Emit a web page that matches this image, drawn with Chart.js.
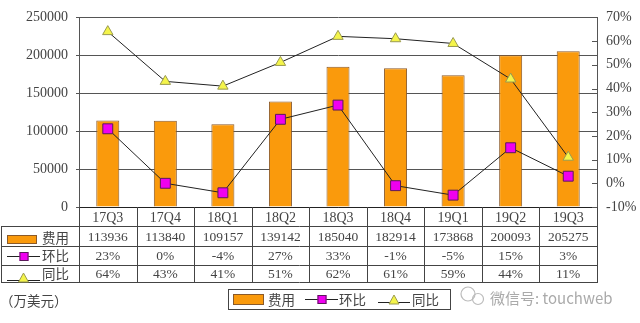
<!DOCTYPE html>
<html>
<head>
<meta charset="utf-8">
<script src="https://cdn.jsdelivr.net/npm/chart.js@4/dist/chart.umd.min.js"></script>
<style>
  html, body { margin: 0; padding: 0; background: #fff; }
  canvas { display: block; }
</style>
</head>
<body>
<canvas id="c" width="640" height="323"></canvas>
<script>
// Quarterly expense (万美元) with quarter-over-quarter and year-over-year growth
const categories = ['17Q3', '17Q4', '18Q1', '18Q2', '18Q3', '18Q4', '19Q1', '19Q2', '19Q3'];
const expense = [113936, 113840, 109157, 139142, 185040, 182914, 173868, 200093, 205275];
const qoq = [23, 0, -4, 27, 33, -1, -5, 15, 3];
const yoy = [64, 43, 41, 51, 62, 61, 59, 44, 11];
const leftTicks = { min: 0, max: 250000, step: 50000 };
const rightTicks = { min: -10, max: 70, step: 10 };
const seriesNames = ['费用', '环比', '同比'];
const unitText = '（万美元）';
const watermark = '微信号: touchweb';

const ORANGE = '#fa9a0c';
const ORANGE_EDGE = '#8a5a2a';
const MAGENTA = '#f000f0';
const MAGENTA_EDGE = '#5a1a5a';
const YELLOW = '#f4f44a';
const YELLOW_EDGE = '#9a9a50';
const LINE = '#222';
const GRID = '#555';
const TEXT = '#444';
const NUM_FONT = '"Liberation Serif", "Noto Sans CJK SC", serif';
const CJK_FONT = '"Noto Sans CJK SC", "Liberation Serif", sans-serif';

function pct(v) { return v + '%'; }
function plain(v) { return String(v); }

// swatches shared by the table legend column and the bottom legend
function drawBarSwatch(ctx, x, y, w, h) {
  ctx.fillStyle = ORANGE;
  ctx.fillRect(x, y, w, h);
  ctx.strokeStyle = ORANGE_EDGE;
  ctx.lineWidth = 1;
  ctx.strokeRect(x + 0.5, y + 0.5, w - 1, h - 1);
}
function drawSquareSwatch(ctx, x1, x2, y) {
  ctx.strokeStyle = LINE; ctx.lineWidth = 1;
  ctx.beginPath(); ctx.moveTo(x1, y + 0.5); ctx.lineTo(x2, y + 0.5); ctx.stroke();
  const cx = (x1 + x2) / 2;
  ctx.fillStyle = MAGENTA; ctx.strokeStyle = MAGENTA_EDGE;
  ctx.fillRect(cx - 4, y - 4, 9, 9);
  ctx.strokeRect(cx - 3.5, y - 3.5, 8, 8);
}
function drawTriangleSwatch(ctx, x1, x2, y) {
  ctx.strokeStyle = LINE; ctx.lineWidth = 1;
  ctx.beginPath(); ctx.moveTo(x1, y + 0.5); ctx.lineTo(x2, y + 0.5); ctx.stroke();
  const cx = (x1 + x2) / 2;
  ctx.beginPath();
  ctx.moveTo(cx, y - 7); ctx.lineTo(cx + 5, y + 2); ctx.lineTo(cx - 5, y + 2); ctx.closePath();
  ctx.fillStyle = YELLOW; ctx.fill();
  ctx.strokeStyle = YELLOW_EDGE; ctx.stroke();
}

const tablePlugin = {
  id: 'dataTable',
  afterDraw(chart) {
    const { ctx, chartArea: a, scales } = chart;
    const x = scales.x, y1 = scales.y1;
    const n = categories.length;
    const step = x.getPixelForValue(1) - x.getPixelForValue(0);
    const rows = [226, 246, 265, 282];
    ctx.save();

    // inner tick marks on the percentage axis
    ctx.strokeStyle = GRID; ctx.lineWidth = 1;
    y1.ticks.forEach(t => {
      const py = Math.round(y1.getPixelForValue(t.value)) + 0.5;
      ctx.beginPath(); ctx.moveTo(a.right - 5, py); ctx.lineTo(a.right, py); ctx.stroke();
    });

    // table grid
    ctx.strokeStyle = '#444';
    for (let i = 0; i <= n; i++) {
      const px = Math.round(x.getPixelForValue(i) - step / 2) + 0.5;
      ctx.beginPath(); ctx.moveTo(px, a.bottom); ctx.lineTo(px, rows[3]); ctx.stroke();
    }
    ctx.beginPath(); ctx.moveTo(1.5, rows[0]); ctx.lineTo(1.5, rows[3]); ctx.stroke();
    rows.forEach(r => {
      ctx.beginPath(); ctx.moveTo(1, r + 0.5); ctx.lineTo(Math.round(a.right) + 1, r + 0.5); ctx.stroke();
    });

    // row headers with their legend keys
    ctx.font = '13.5px ' + CJK_FONT;
    ctx.fillStyle = TEXT;
    ctx.textAlign = 'left'; ctx.textBaseline = 'middle';
    drawBarSwatch(ctx, 7, 235, 30, 9);
    ctx.fillStyle = TEXT; ctx.fillText(seriesNames[0], 42, 238);
    drawSquareSwatch(ctx, 7, 40, 256);
    ctx.fillStyle = TEXT; ctx.fillText(seriesNames[1], 42, 256);
    drawTriangleSwatch(ctx, 7, 40, 280);
    ctx.fillStyle = TEXT; ctx.fillText(seriesNames[2], 42, 274);

    // cell values
    ctx.font = '13.5px ' + NUM_FONT;
    ctx.textAlign = 'center';
    const rowsData = [expense.map(String), qoq.map(pct), yoy.map(pct)];
    rowsData.forEach((vals, r) => {
      const cy = (rows[r] + rows[r + 1]) / 2 + 1;
      vals.forEach((v, i) => ctx.fillText(v, x.getPixelForValue(i), cy));
    });

    // unit note
    ctx.textAlign = 'left';
    ctx.font = '13.5px ' + CJK_FONT;
    ctx.fillStyle = TEXT;
    ctx.fillText(unitText, 0, 301);

    // bottom legend box
    ctx.strokeStyle = '#444';
    ctx.strokeRect(228.5, 289.5, 222, 20);
    drawBarSwatch(ctx, 233, 294, 31, 11);
    ctx.fillStyle = TEXT; ctx.fillText(seriesNames[0], 268, 300);
    drawSquareSwatch(ctx, 305, 338, 299);
    ctx.fillStyle = TEXT; ctx.fillText(seriesNames[1], 339, 300);
    drawTriangleSwatch(ctx, 378, 410, 302);
    ctx.fillStyle = TEXT; ctx.fillText(seriesNames[2], 412, 300);

    // watermark
    ctx.strokeStyle = '#bbb'; ctx.lineWidth = 1.2;
    ctx.beginPath(); ctx.arc(468, 294, 7, 0, Math.PI * 2); ctx.stroke();
    ctx.beginPath(); ctx.arc(478, 299, 5.5, 0, Math.PI * 2); ctx.stroke();
    ctx.font = '15px ' + CJK_FONT;
    ctx.fillStyle = '#aaa';
    ctx.fillText(watermark, 490, 298);
    ctx.restore();
  }
};

new Chart(document.getElementById('c'), {
  data: {
    labels: categories,
    datasets: [
      {
        type: 'line', label: seriesNames[1], data: qoq, yAxisID: 'y1', order: 2,
        borderColor: LINE, borderWidth: 1, tension: 0,
        pointStyle: 'rect', pointRadius: 7, pointBackgroundColor: MAGENTA,
        pointBorderColor: MAGENTA_EDGE, pointBorderWidth: 1
      },
      {
        type: 'line', label: seriesNames[2], data: yoy, yAxisID: 'y1', order: 1,
        borderColor: LINE, borderWidth: 1, tension: 0,
        pointStyle: 'triangle', pointRadius: 6, pointBackgroundColor: YELLOW,
        pointBorderColor: YELLOW_EDGE, pointBorderWidth: 1
      },
      {
        type: 'bar', label: seriesNames[0], data: expense, yAxisID: 'y', order: 3,
        backgroundColor: ORANGE, borderColor: ORANGE_EDGE, borderWidth: 1,
        barPercentage: 0.4, categoryPercentage: 1
      }
    ]
  },
  options: {
    responsive: false,
    animation: false,
    events: [],
    layout: { padding: { top: 11, left: 0, right: 0, bottom: 0 } },
    plugins: { legend: { display: false }, tooltip: { enabled: false } },
    scales: {
      x: {
        offset: true,
        grid: { display: false, drawTicks: false },
        border: { display: true, color: LINE, width: 1 },
        ticks: { color: TEXT, font: { family: NUM_FONT, size: 14 }, padding: 3, maxRotation: 0 },
        afterFit(s) { s.height = 116; }
      },
      y: {
        position: 'left',
        min: leftTicks.min, max: leftTicks.max,
        grid: { color: GRID, tickLength: 3, lineWidth: 1 },
        border: { display: true, color: GRID },
        ticks: { stepSize: leftTicks.step, color: TEXT, font: { family: NUM_FONT, size: 14 }, padding: 8, callback: plain },
        afterFit(s) { s.width = 79; }
      },
      y1: {
        position: 'right',
        min: rightTicks.min, max: rightTicks.max,
        grid: { drawOnChartArea: false, drawTicks: false },
        border: { display: true, color: GRID },
        ticks: { stepSize: rightTicks.step, color: TEXT, font: { family: NUM_FONT, size: 14 }, padding: 9, callback: pct },
        afterFit(s) { s.width = 43; }
      }
    }
  },
  plugins: [tablePlugin]
});
</script>
</body>
</html>
